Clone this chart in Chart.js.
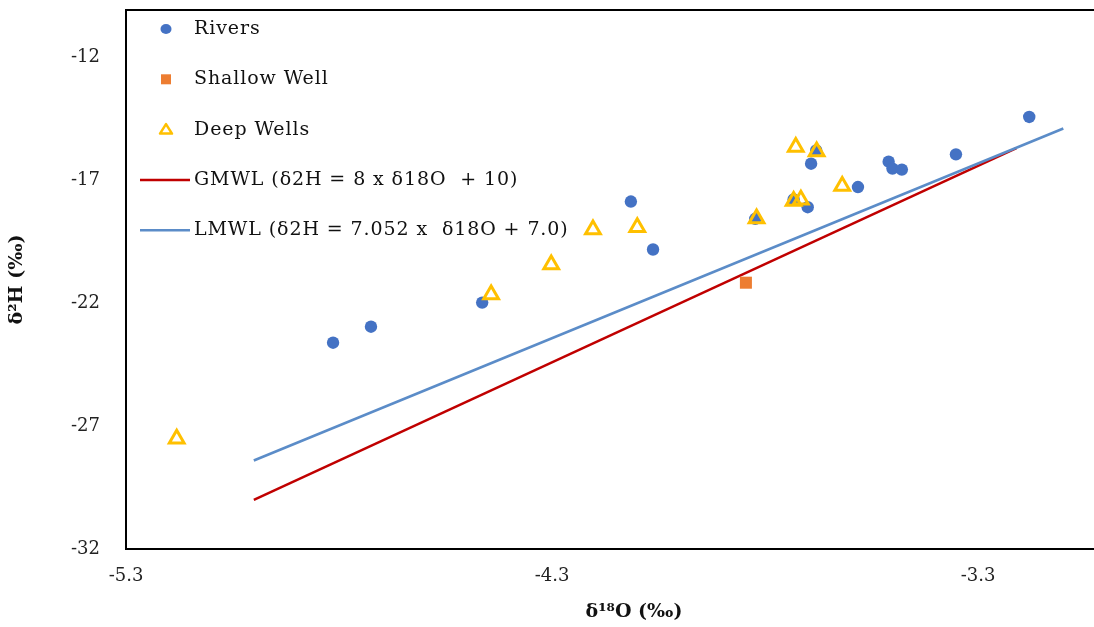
<!DOCTYPE html>
<html>
<head>
<meta charset="utf-8">
<script src="https://cdn.jsdelivr.net/npm/chart.js@4.4.1/dist/chart.umd.min.js"></script>
<style>
  html, body { margin: 0; padding: 0; background: #fff; }
  #wrap { width: 1094px; height: 627px; }
</style>
</head>
<body>
<div id="wrap"><canvas id="myChart"></canvas></div>
<script>
// Axis ticks
var xTicks = [-5.3, -4.3, -3.3];
var yTicks = [-32, -27, -22, -17, -12];

// Rivers (d18O, d2H)
var riversX = [-4.814, -4.725, -4.464, -4.115, -4.063, -3.823, -3.733, -3.700, -3.692, -3.680, -3.582, -3.510, -3.501, -3.479, -3.352, -3.180];
var riversY = [-23.61, -22.96, -21.98, -17.87, -19.82, -18.57, -17.78, -18.10, -16.33, -15.79, -17.28, -16.25, -16.53, -16.57, -15.95, -14.43];

// Shallow well
var shallowX = [-3.845];
var shallowY = [-21.17];

// Deep wells
var deepX = [-5.181, -4.443, -4.302, -4.204, -4.100, -3.820, -3.728, -3.679, -3.733, -3.716, -3.619];
var deepY = [-27.52, -21.65, -20.43, -19.01, -18.92, -18.56, -15.65, -15.83, -17.85, -17.80, -17.24];

// Meteoric water lines (end points)
var gmwlX = [-5.0, -3.21];
var gmwlY = [-30.0, -15.7];
var lmwlX = [-5.0, -3.1];
var lmwlY = [-28.4, -14.9];

var xTitle = '\u03b4\u00b9\u2078O (\u2030)';
var yTitle = '\u03b4\u00b2H (\u2030)';

function toPoints(xs, ys) {
  var pts = [];
  for (var i = 0; i < xs.length; i++) {
    pts.push({x: xs[i], y: ys[i]});
  }
  return pts;
}

var serif = "'DejaVu Serif', 'Liberation Serif', serif";

// legend drawn inside the plot area, top left
var insideLegend = {
  id: 'insideLegend',
  afterDatasetsDraw: function(chart) {
    var ctx = chart.ctx;
    var area = chart.chartArea;
    var sets = chart.data.datasets;
    ctx.save();
    ctx.font = '19px ' + serif;
    ctx.letterSpacing = '0.9px';
    ctx.textBaseline = 'middle';
    for (var i = 0; i < sets.length; i++) {
      var ds = sets[i];
      var y = area.top + 19 + i * 50.3;
      var cx = area.left + 40;
      ctx.beginPath();
      if (ds.showLine) {
        ctx.strokeStyle = ds.borderColor;
        ctx.lineWidth = 2.5;
        ctx.moveTo(area.left + 14, y);
        ctx.lineTo(area.left + 64, y);
        ctx.stroke();
      } else if (ds.pointStyle === 'circle') {
        ctx.fillStyle = ds.backgroundColor;
        ctx.ellipse(cx, y, 5.5, 5, 0, 0, Math.PI * 2);
        ctx.fill();
      } else if (ds.pointStyle === 'rect') {
        ctx.fillStyle = ds.backgroundColor;
        ctx.fillRect(cx - 5, y - 5, 10, 10);
      } else if (ds.pointStyle === 'triangle') {
        ctx.strokeStyle = ds.borderColor;
        ctx.lineWidth = 2.5;
        ctx.lineJoin = 'round';
        ctx.moveTo(cx, y - 5.5);
        ctx.lineTo(cx + 6, y + 4);
        ctx.lineTo(cx - 6, y + 4);
        ctx.closePath();
        ctx.stroke();
      }
      ctx.fillStyle = '#111';
      ctx.fillText(ds.label, area.left + 68, y);
    }
    ctx.restore();
  }
};

// top frame line and x axis title
var frameAndTitle = {
  id: 'frameAndTitle',
  afterDraw: function(chart) {
    var ctx = chart.ctx;
    var area = chart.chartArea;
    ctx.save();
    ctx.strokeStyle = '#000';
    ctx.lineWidth = 2;
    ctx.beginPath();
    ctx.moveTo(area.left - 1, area.top);
    ctx.lineTo(area.right, area.top);
    ctx.stroke();

    ctx.font = 'bold 19px ' + serif;
    ctx.fillStyle = '#111';
    ctx.textAlign = 'center';
    ctx.textBaseline = 'middle';
    ctx.fillText(xTitle, area.left + 508, chart.height - 15);
    ctx.restore();
  }
};

function noPadding(scale) {
  scale.paddingTop = 0;
  scale.paddingBottom = 0;
  scale.paddingLeft = 0;
  scale.paddingRight = 0;
}

var ctx = document.getElementById('myChart');

var data = {
  datasets: [
    {
      label: 'Rivers',
      data: toPoints(riversX, riversY),
      pointStyle: 'circle',
      backgroundColor: '#4472C4',
      borderColor: '#4472C4',
      pointRadius: 6.2,
      borderWidth: 0,
      order: 1
    },
    {
      label: 'Shallow Well',
      data: toPoints(shallowX, shallowY),
      pointStyle: 'rect',
      backgroundColor: '#ED7D31',
      borderColor: '#ED7D31',
      pointRadius: 8.5,
      borderWidth: 0,
      order: 2
    },
    {
      label: 'Deep Wells',
      data: toPoints(deepX, deepY),
      pointStyle: 'triangle',
      backgroundColor: 'rgba(255,255,255,0)',
      borderColor: '#FFC000',
      pointRadius: 8.5,
      borderWidth: 3,
      order: 0
    },
    {
      label: 'GMWL (\u03b42H = 8 x \u03b418O  + 10)',
      data: toPoints(gmwlX, gmwlY),
      showLine: true,
      borderColor: '#C00000',
      backgroundColor: '#C00000',
      borderWidth: 2.5,
      pointRadius: 0,
      order: 4
    },
    {
      label: 'LMWL (\u03b42H = 7.052 x  \u03b418O + 7.0)',
      data: toPoints(lmwlX, lmwlY),
      showLine: true,
      borderColor: '#5B8CC8',
      backgroundColor: '#5B8CC8',
      borderWidth: 2.5,
      pointRadius: 0,
      order: 3
    }
  ]
};

var options = {
  responsive: true,
  maintainAspectRatio: false,
  animation: false,
  layout: {
    autoPadding: false,
    padding: { left: 0, right: 0, top: 10, bottom: 0 }
  },
  plugins: {
    legend: { display: false },
    tooltip: { enabled: false }
  },
  scales: {
    x: {
      type: 'linear',
      min: -5.3,
      max: -3.028,
      afterBuildTicks: function(scale) {
        scale.ticks = xTicks.map(function(v) { return {value: v}; });
      },
      afterFit: function(scale) { scale.height = 78; noPadding(scale); },
      grid: { display: false, drawTicks: false },
      border: { display: true, color: '#000', width: 2 },
      ticks: {
        padding: 17,
        color: '#222',
        font: { family: serif, size: 18 },
        callback: function(v) { return v.toFixed(1); }
      },
      title: { display: false }
    },
    y: {
      type: 'linear',
      min: -32,
      max: -10.08,
      afterBuildTicks: function(scale) {
        scale.ticks = yTicks.map(function(v) { return {value: v}; });
      },
      afterFit: function(scale) { scale.width = 126; noPadding(scale); },
      grid: { display: false, drawTicks: false },
      border: { display: true, color: '#000', width: 2 },
      ticks: {
        padding: 26,
        color: '#222',
        font: { family: serif, size: 18 }
      },
      title: {
        display: true,
        text: yTitle,
        color: '#111',
        font: { family: serif, size: 19, weight: 'bold' },
        padding: { top: 6, bottom: 0 }
      }
    }
  }
};

var myChart = new Chart(ctx, {
  type: 'scatter',
  data: data,
  options: options,
  plugins: [insideLegend, frameAndTitle]
});
</script>
</body>
</html>
